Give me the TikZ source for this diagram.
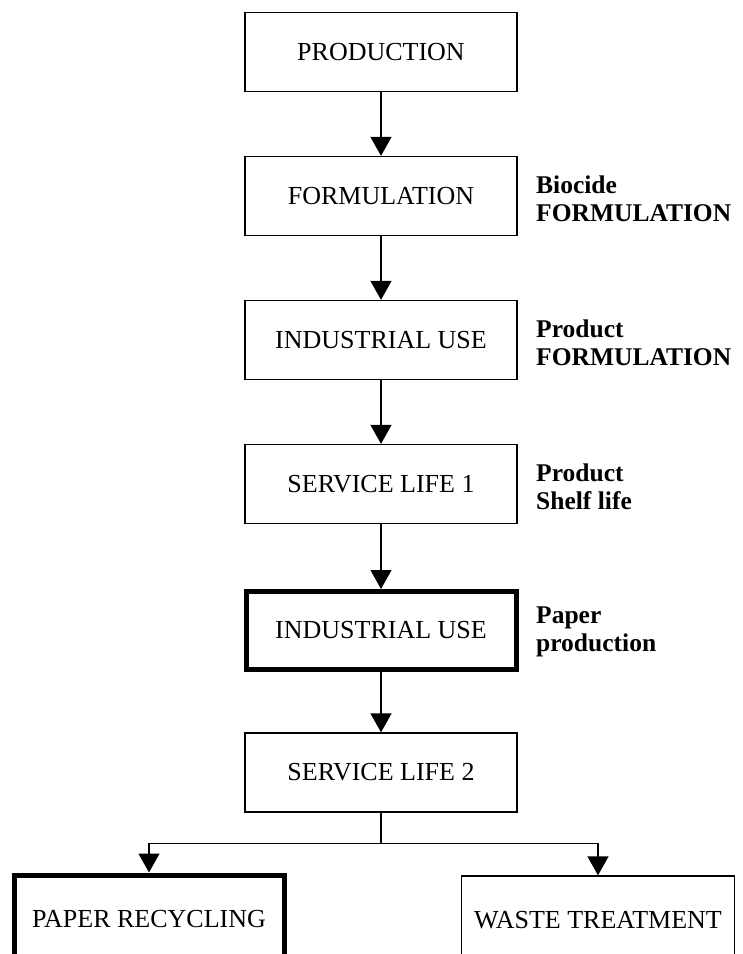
\documentclass[tikz,border=0pt]{standalone}
\usepackage{fontspec}
\setmainfont{Liberation Serif}
\usetikzlibrary{arrows.meta}
\begin{document}
\begin{tikzpicture}[x=1pt,y=-1pt,
  box/.style={draw, line width=1.3pt, minimum width=272pt, minimum height=79pt, inner sep=0pt,
    font=\fontsize{26}{30}\selectfont},
  thickbox/.style={box, line width=5pt, minimum width=270pt, minimum height=78pt},
  lbl/.style={anchor=west, align=left, inner sep=0pt, font=\bfseries\fontsize{25.5}{28}\selectfont},
  arr/.style={line width=1.3pt, -{Triangle[length=19pt 0 0, width=21pt 0]}},
  ln/.style={line width=1.3pt}]
\useasboundingbox (0,0) rectangle (743,954);
\clip (0,0) rectangle (743,954);
\node[box] (prod) at (381,52) {PRODUCTION};
\node[box] (form) at (381,196) {FORMULATION};
\node[box] (ind1) at (381,340) {INDUSTRIAL USE};
\node[box] (sl1) at (381,484) {SERVICE LIFE 1};
\node[thickbox] (ind2) at (381,630.5) {INDUSTRIAL USE};
\node[box] (sl2) at (381,772.5) {SERVICE LIFE 2};
\node[thickbox, minimum height=88pt] (pr) at (149,919) {PAPER RECYCLING};
\node[box, minimum width=273pt, minimum height=88pt] (wt) at (598,920) {WASTE TREATMENT};

\node[lbl] (l1) at (536,199) {Biocide\\FORMULATION};
\node[lbl] (l2) at (536,343) {Product\\FORMULATION};
\node[lbl] (l3) at (536,487) {Product\\Shelf life};
\node[lbl] (l4) at (536,632) {Paper\\production};

\draw[arr] (prod) -- (form);
\draw[arr] (form) -- (ind1);
\draw[arr] (ind1) -- (sl1);
\draw[arr] (sl1) -- (ind2);
\draw[arr] (ind2) -- (sl2);
\draw[ln] (sl2.south) -- ++(0,31) coordinate (j);
\draw[arr] (j) -| (pr.north);
\draw[arr] (j) -| (wt.north);
\end{tikzpicture}
\end{document}
